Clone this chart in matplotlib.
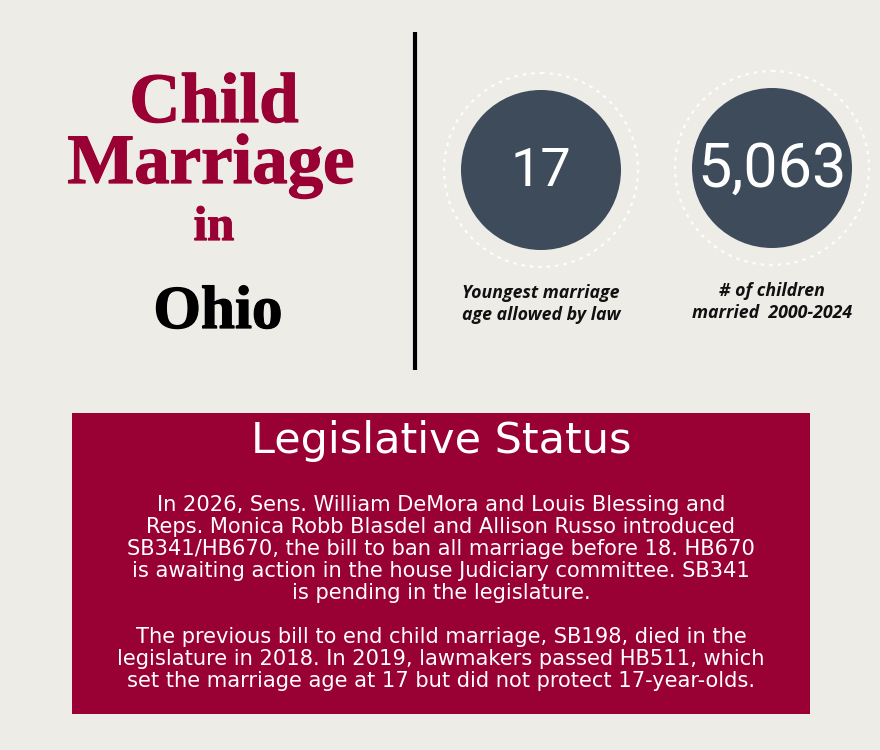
import matplotlib.pyplot as plt
import matplotlib.patheffects as pe
from matplotlib.patches import Circle, Rectangle

# content
title_lines = ["Child", "Marriage", "in"]
state = "Ohio"
stat_values = ["17", "5,063"]
stat_labels = ["Youngest marriage\nage allowed by law", "# of children\nmarried  2000-2024"]
box_title = "Legislative Status"
para1 = ["In 2026, Sens. William DeMora and Louis Blessing and",
         "Reps. Monica Robb Blasdel and Allison Russo introduced",
         "SB341/HB670, the bill to ban all marriage before 18. HB670",
         "is awaiting action in the house Judiciary committee. SB341",
         "is pending in the legislature."]
para2 = ["The previous bill to end child marriage, SB198, died in the",
         "legislature in 2018. In 2019, lawmakers passed HB511, which",
         "set the marriage age at 17 but did not protect 17-year-olds."]

bg = "#eeece7"
red = "#990033"
navy = "#3d4b5a"

fig = plt.figure(figsize=(8.8, 7.5), dpi=100)
fig.patch.set_facecolor(bg)
ax = fig.add_axes([0, 0, 1, 1])
ax.set_xlim(0, 880)
ax.set_ylim(750, 0)
ax.axis("off")

# left title block
serif = "Liberation Serif"
def heavy(c):
    return [pe.withStroke(linewidth=0.9, foreground=c)]

ax.text(214, 122, title_lines[0], ha="center", va="baseline", fontsize=51,
        fontweight="bold", family=serif, color=red, path_effects=heavy(red))
ax.text(211, 183, title_lines[1], ha="center", va="baseline", fontsize=51,
        fontweight="bold", family=serif, color=red, path_effects=heavy(red))
ax.text(214, 240, title_lines[2], ha="center", va="baseline", fontsize=35,
        fontweight="bold", family=serif, color=red, path_effects=heavy(red))
ax.text(218, 328, state, ha="center", va="baseline", fontsize=44,
        fontweight="bold", family=serif, color="black",
        path_effects=heavy("black"))

# divider
ax.plot([415, 415], [32, 370], color="black", lw=3, solid_capstyle="butt")

# stat circles
centers = [(541, 170), (772, 168)]
sizes = [39, 44]
for (cx, cy), val, lab, fs in zip(centers, stat_values, stat_labels, sizes):
    ax.add_patch(Circle((cx, cy), 97, fill=False, ec="white", lw=1.6,
                        ls=(0, (1.6, 2.2)), alpha=0.9))
    ax.add_patch(Circle((cx, cy), 80, color=navy, ec="none"))
    ax.text(cx, cy + 2, val, ha="center", va="center", fontsize=fs,
            family="Roboto", color="white")
    ax.text(cx, cy + 134, lab, ha="center", va="center", fontsize=12.8,
            family="Open Sans", fontweight="bold", fontstyle="italic",
            color="#111111", linespacing=1.35)

# legislative box
ax.add_patch(Rectangle((72, 413), 738, 301, color=red, ec="none"))
ax.text(441, 441, box_title, ha="center", va="center", fontsize=31,
        family="DejaVu Sans", color="white")
y = 505
for line in para1:
    ax.text(441, y, line, ha="center", va="center", fontsize=15.1,
            family="DejaVu Sans", color="white")
    y += 22
y = 637
for line in para2:
    ax.text(441, y, line, ha="center", va="center", fontsize=15.1,
            family="DejaVu Sans", color="white")
    y += 22

fig.savefig("out.png", dpi=100, facecolor=bg)
